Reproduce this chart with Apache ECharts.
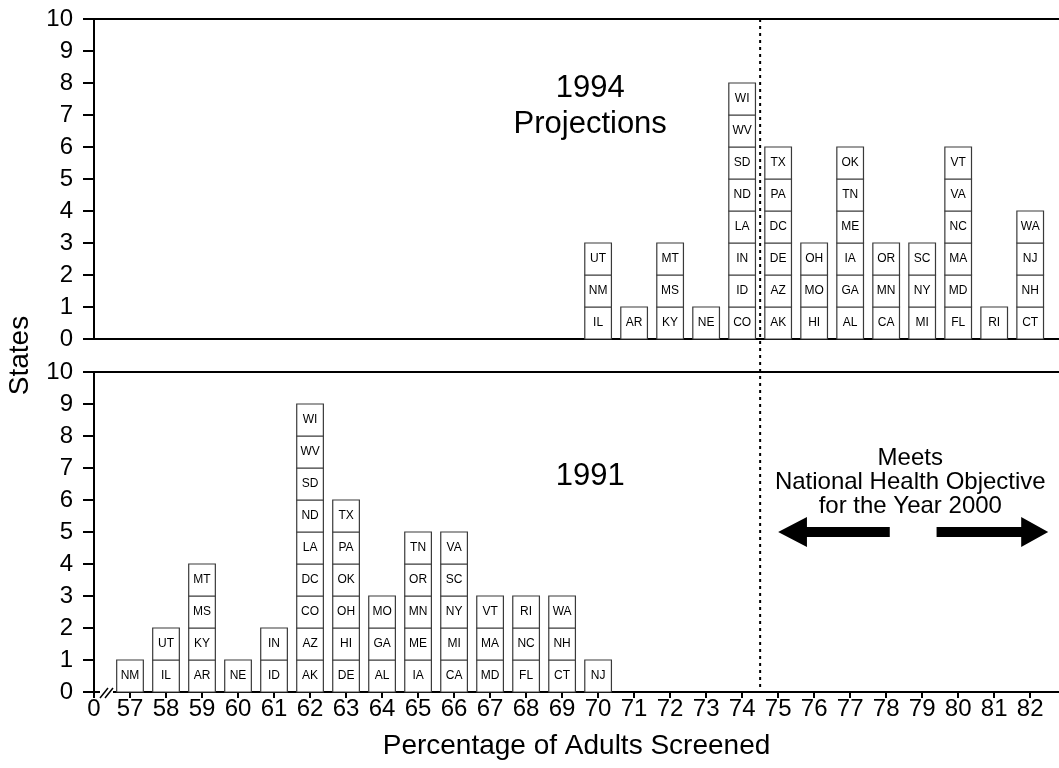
<!DOCTYPE html>
<html><head><meta charset="utf-8">
<script src="https://cdn.jsdelivr.net/npm/echarts@6/dist/echarts.min.js"></script>
<style>html,body{margin:0;padding:0;background:#fff}#c{width:1059px;height:768px}</style>
</head><body><div id="c"></div>
<script>
const FONT = '"Liberation Sans", Arial, Helvetica, sans-serif';

// 1994 projections: percentage -> states stacked bottom to top
const xValues1994 = [70, 71, 72, 73, 74, 75, 76, 77, 78, 79, 80, 81, 82];
const states1994 = [
  ['IL', 'NM', 'UT'],
  ['AR'],
  ['KY', 'MS', 'MT'],
  ['NE'],
  ['CO', 'ID', 'IN', 'LA', 'ND', 'SD', 'WV', 'WI'],
  ['AK', 'AZ', 'DE', 'DC', 'PA', 'TX'],
  ['HI', 'MO', 'OH'],
  ['AL', 'GA', 'IA', 'ME', 'TN', 'OK'],
  ['CA', 'MN', 'OR'],
  ['MI', 'NY', 'SC'],
  ['FL', 'MD', 'MA', 'NC', 'VA', 'VT'],
  ['RI'],
  ['CT', 'NH', 'NJ', 'WA']
];

// 1991: percentage -> states stacked bottom to top
const xValues1991 = [57, 58, 59, 60, 61, 62, 63, 64, 65, 66, 67, 68, 69, 70];
const states1991 = [
  ['NM'],
  ['IL', 'UT'],
  ['AR', 'KY', 'MS', 'MT'],
  ['NE'],
  ['ID', 'IN'],
  ['AK', 'AZ', 'CO', 'DC', 'LA', 'ND', 'SD', 'WV', 'WI'],
  ['DE', 'HI', 'OH', 'OK', 'PA', 'TX'],
  ['AL', 'GA', 'MO'],
  ['IA', 'ME', 'MN', 'OR', 'TN'],
  ['CA', 'MI', 'NY', 'SC', 'VA'],
  ['MD', 'MA', 'VT'],
  ['FL', 'NC', 'RI'],
  ['CT', 'NH', 'WA'],
  ['NJ']
];

const xAxisMin = 56;          // shown as "0" (broken axis)
const xAxisMax = 82.8;
const brokenAxisLabel = '0';
const yMin = 0, yMax = 10;
const objectiveValue = 74.5;  // national health objective threshold
const panel1994Text = '1994\nProjections';
const panel1991Text = '1991';
const objectiveText = 'Meets\nNational Health Objective\nfor the Year 2000';
const xAxisTitle = 'Percentage of Adults Screened';
const yAxisTitle = 'States';

function buildBoxes(xs, stacks) {
  const out = [];
  xs.forEach((x, i) => stacks[i].forEach((s, j) => out.push([x, j, s])));
  return out;
}

const chart = echarts.init(document.getElementById('c'));

function renderBox(params, api) {
  const x = api.value(0), lvl = api.value(1);
  const p0 = api.coord([x - 0.37, lvl + 1]);
  const p1 = api.coord([x + 0.37, lvl]);
  const w = p1[0] - p0[0], h = p1[1] - p0[1];
  return {
    type: 'group',
    children: [
      { type: 'rect', shape: { x: p0[0], y: p0[1], width: w, height: h },
        style: { fill: '#fff', stroke: '#3a3a3a', lineWidth: 1.2 } },
      { type: 'text', x: p0[0] + w / 2, y: p0[1] + h / 2,
        style: { text: api.value(2), fill: '#000', font: '12px ' + FONT, align: 'center', verticalAlign: 'middle' } }
    ]
  };
}

const lineOnlyX = (gridIndex, position) => ({
  type: 'value', gridIndex, position, min: xAxisMin, max: xAxisMax, interval: 1,
  axisLine: { show: true, onZero: false, lineStyle: { color: '#000', width: 2 } },
  axisTick: { show: false }, axisLabel: { show: false }, splitLine: { show: false }
});

const yAxisDef = (gridIndex) => ({
  type: 'value', gridIndex, min: yMin, max: yMax, interval: 1,
  axisLine: { show: true, onZero: false, lineStyle: { color: '#000', width: 2 } },
  axisTick: { show: true, length: 11, lineStyle: { color: '#000', width: 2 } },
  axisLabel: { color: '#000', fontSize: 24, fontFamily: FONT, margin: 21 },
  splitLine: { show: false }
});

chart.setOption({
  animation: false,
  backgroundColor: '#fff',
  grid: [
    { left: 94, top: 19, right: 0, height: 320 },
    { left: 94, top: 372, right: 0, height: 320 }
  ],
  xAxis: [
    lineOnlyX(0, 'bottom'),
    lineOnlyX(0, 'top'),
    {
      type: 'value', gridIndex: 1, position: 'bottom', min: xAxisMin, max: xAxisMax, interval: 1,
      axisLine: { show: true, onZero: false, lineStyle: { color: '#000', width: 2 } },
      axisTick: { show: true, length: 6, lineStyle: { color: '#000', width: 2 } },
      axisLabel: {
        color: '#000', fontSize: 24, fontFamily: FONT, margin: 5, showMaxLabel: false,
        formatter: v => (v === xAxisMin ? brokenAxisLabel : (Number.isInteger(v) ? String(v) : ''))
      },
      splitLine: { show: false },
      name: xAxisTitle, nameLocation: 'middle', nameGap: 40,
      nameTextStyle: { color: '#000', fontSize: 28, fontFamily: FONT }
    },
    lineOnlyX(1, 'top')
  ],
  yAxis: [yAxisDef(0), yAxisDef(1)],
  series: [
    { type: 'custom', xAxisIndex: 0, yAxisIndex: 0, renderItem: renderBox,
      data: buildBoxes(xValues1994, states1994), clip: false, z: 5 },
    { type: 'custom', xAxisIndex: 2, yAxisIndex: 1, renderItem: renderBox,
      data: buildBoxes(xValues1991, states1991), clip: false, z: 5 }
  ]
});

// annotations positioned through the chart's own scales
const px0 = v => chart.convertToPixel({ gridIndex: 0 }, v);
const px1 = v => chart.convertToPixel({ gridIndex: 1 }, v);

const dTop = px0([objectiveValue, yMax]);
const dBot = px1([objectiveValue, yMin]);
const origin = px1([xAxisMin, yMin]);

function arrow(tipX, baseX, endX, y) {
  const ht = 15, hs = 5;
  return [[tipX, y], [baseX, y - ht], [baseX, y - hs], [endX, y - hs], [endX, y + hs], [baseX, y + hs], [baseX, y + ht]];
}
const aY = px1([0, 5])[1];
const lTip = px1([75.0, 0])[0], lBase = px1([75.8, 0])[0], lEnd = px1([78.1, 0])[0];
const rTip = px1([82.5, 0])[0], rBase = px1([81.75, 0])[0], rEnd = px1([79.4, 0])[0];

const t94 = px0([69.78, 7.28]);
const t91 = px1([69.78, 6.75]);
const tObj = px1([78.67, 6.56]);

chart.setOption({
  graphic: [
    { type: 'line', shape: { x1: dTop[0], y1: dTop[1], x2: dBot[0], y2: dBot[1] },
      style: { stroke: '#000', lineWidth: 2, lineDash: [3, 4] }, z: 1 },
    { type: 'rect', shape: { x: origin[0] + 6, y: origin[1] - 3, width: 13, height: 6 },
      style: { fill: '#fff' }, z: 10 },
    { type: 'line', shape: { x1: origin[0] + 6, y1: origin[1] + 6, x2: origin[0] + 14, y2: origin[1] - 4 },
      style: { stroke: '#000', lineWidth: 1.5 }, z: 11 },
    { type: 'line', shape: { x1: origin[0] + 11, y1: origin[1] + 6, x2: origin[0] + 19, y2: origin[1] - 4 },
      style: { stroke: '#000', lineWidth: 1.5 }, z: 11 },
    { type: 'text', x: t94[0], y: t94[1],
      style: { text: panel1994Text, font: '31px ' + FONT, fill: '#000', align: 'center', verticalAlign: 'middle', lineHeight: 36 } },
    { type: 'text', x: t91[0], y: t91[1],
      style: { text: panel1991Text, font: '31px ' + FONT, fill: '#000', align: 'center', verticalAlign: 'middle' } },
    { type: 'text', x: tObj[0], y: tObj[1],
      style: { text: objectiveText, font: '24px ' + FONT, fill: '#000', align: 'center', verticalAlign: 'middle', lineHeight: 24 } },
    { type: 'polygon', shape: { points: arrow(lTip, lBase, lEnd, aY) }, style: { fill: '#000' } },
    { type: 'polygon', shape: { points: arrow(rTip, rBase, rEnd, aY) }, style: { fill: '#000' } },
    { type: 'text', x: 20, y: (px0([0, 0])[1] + px1([0, 10])[1]) / 2, rotation: Math.PI / 2,
      style: { text: yAxisTitle, font: '28px ' + FONT, fill: '#000', align: 'center', verticalAlign: 'middle' } }
  ]
});
</script>
</body></html>
